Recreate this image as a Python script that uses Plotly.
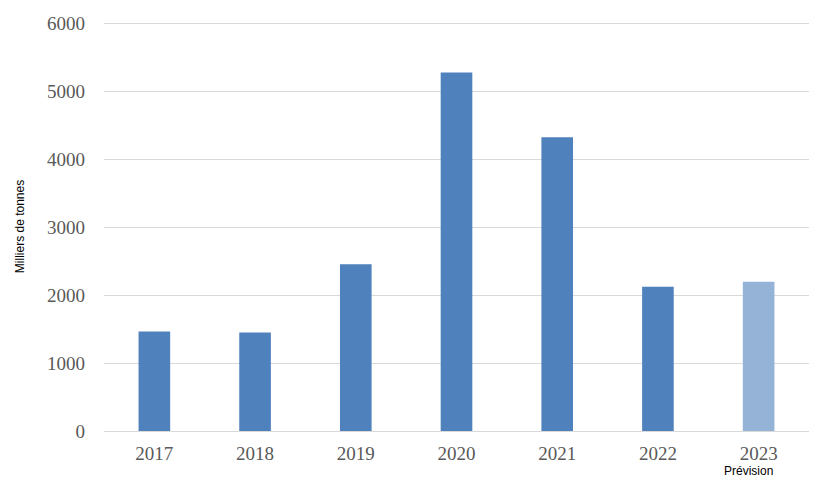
import plotly.graph_objects as go

years = ["2017", "2018", "2019", "2020", "2021", "2022", "2023"]
values = [1464, 1449, 2451, 5272, 4321, 2121, 2194]
colors = ["#4F81BD"] * 6 + ["#95B3D7"]
y_ticks = [0, 1000, 2000, 3000, 4000, 5000, 6000]
forecast_note = "Prévision"

fig = go.Figure(go.Bar(x=years, y=values, marker=dict(color=colors, line=dict(width=0)), width=0.314))

fig.update_layout(
    width=812, height=485,
    margin=dict(l=96, r=11, t=14, b=62),
    plot_bgcolor="white", paper_bgcolor="white",
    showlegend=False,
    font=dict(family="Liberation Serif", size=19, color="#595959"),
)
fig.update_yaxes(
    range=[0, 6015], tickvals=y_ticks, showgrid=True, gridcolor="#D9D9D9", gridwidth=1.3,
    zeroline=False, showline=False, ticks="", ticklabelstandoff=18, automargin=False,
    title=dict(text="Milliers de tonnes", font=dict(family="Liberation Sans", size=12, color="black"), standoff=19),
)
fig.update_xaxes(
    type="category", range=[-0.5, len(years) - 0.5], automargin=False,
    showline=True, linecolor="#D9D9D9", linewidth=1.3, ticks="", showgrid=False,
    ticklabelstandoff=5,
)
fig.add_annotation(
    x=len(years) - 1, y=0, xref="x", yref="y", yshift=-40, text=forecast_note, showarrow=False,
    font=dict(family="Liberation Sans", size=12, color="black"), xshift=-10,
)
fig.write_html("out.html")
